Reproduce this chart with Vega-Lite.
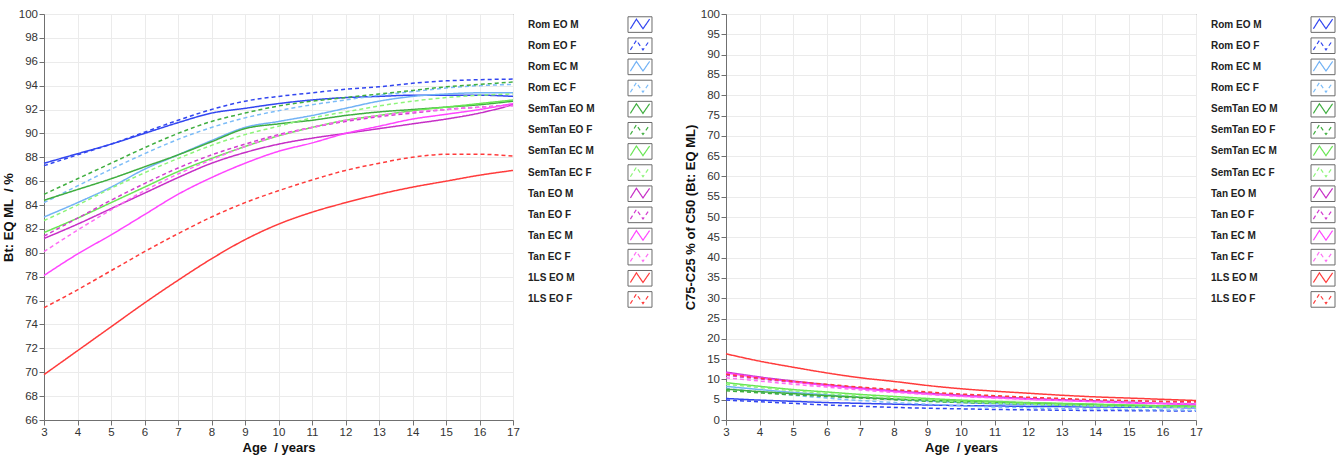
{
 "$schema": "https://vega.github.io/schema/vega-lite/v6.json",
 "padding": {"left": 1, "top": 7, "right": 0, "bottom": 0},
 "bounds": "flush",
 "spacing": 15,
 "datasets": {
  "series": [{"s":"Rom EO M"},{"s":"Rom EO F"},{"s":"Rom EC M"},{"s":"Rom EC F"},{"s":"SemTan EO M"},{"s":"SemTan EO F"},{"s":"SemTan EC M"},{"s":"SemTan EC F"},{"s":"Tan EO M"},{"s":"Tan EO F"},{"s":"Tan EC M"},{"s":"Tan EC F"},{"s":"1LS EO M"},{"s":"1LS EO F"}],
  "pts": [
{"s":"Rom EO M","age":3,"bt":87.5,"c":5.3},{"s":"Rom EO M","age":4,"bt":88.3,"c":4.9},{"s":"Rom EO M","age":5,"bt":89.1,"c":4.6},{"s":"Rom EO M","age":6,"bt":90.0,"c":4.3},{"s":"Rom EO M","age":7,"bt":90.9,"c":4.1},{"s":"Rom EO M","age":8,"bt":91.7,"c":3.9},{"s":"Rom EO M","age":9,"bt":92.1,"c":3.7},{"s":"Rom EO M","age":10,"bt":92.5,"c":3.55},{"s":"Rom EO M","age":11,"bt":92.8,"c":3.45},{"s":"Rom EO M","age":12,"bt":93.0,"c":3.35},{"s":"Rom EO M","age":13,"bt":93.1,"c":3.3},{"s":"Rom EO M","age":14,"bt":93.2,"c":3.2},{"s":"Rom EO M","age":15,"bt":93.2,"c":3.15},{"s":"Rom EO M","age":16,"bt":93.2,"c":3.1},{"s":"Rom EO M","age":17,"bt":93.1,"c":3.0},
{"s":"Rom EO F","age":3,"bt":87.3,"c":4.9},{"s":"Rom EO F","age":4,"bt":88.2,"c":4.5},{"s":"Rom EO F","age":5,"bt":89.1,"c":4.1},{"s":"Rom EO F","age":6,"bt":90.1,"c":3.7},{"s":"Rom EO F","age":7,"bt":91.1,"c":3.4},{"s":"Rom EO F","age":8,"bt":92.0,"c":3.1},{"s":"Rom EO F","age":9,"bt":92.7,"c":2.9},{"s":"Rom EO F","age":10,"bt":93.1,"c":2.75},{"s":"Rom EO F","age":11,"bt":93.4,"c":2.6},{"s":"Rom EO F","age":12,"bt":93.7,"c":2.5},{"s":"Rom EO F","age":13,"bt":93.9,"c":2.4},{"s":"Rom EO F","age":14,"bt":94.2,"c":2.35},{"s":"Rom EO F","age":15,"bt":94.4,"c":2.3},{"s":"Rom EO F","age":16,"bt":94.5,"c":2.25},{"s":"Rom EO F","age":17,"bt":94.55,"c":2.2},
{"s":"Rom EC M","age":3,"bt":83.0,"c":8.3},{"s":"Rom EC M","age":4,"bt":84.2,"c":7.5},{"s":"Rom EC M","age":5,"bt":85.5,"c":6.8},{"s":"Rom EC M","age":6,"bt":87.0,"c":6.2},{"s":"Rom EC M","age":7,"bt":88.2,"c":5.6},{"s":"Rom EC M","age":8,"bt":89.4,"c":5.1},{"s":"Rom EC M","age":9,"bt":90.5,"c":4.7},{"s":"Rom EC M","age":10,"bt":91.0,"c":4.3},{"s":"Rom EC M","age":11,"bt":91.5,"c":4.0},{"s":"Rom EC M","age":12,"bt":92.1,"c":3.8},{"s":"Rom EC M","age":13,"bt":92.7,"c":3.6},{"s":"Rom EC M","age":14,"bt":93.1,"c":3.4},{"s":"Rom EC M","age":15,"bt":93.3,"c":3.3},{"s":"Rom EC M","age":16,"bt":93.4,"c":3.2},{"s":"Rom EC M","age":17,"bt":93.4,"c":3.1},
{"s":"Rom EC F","age":3,"bt":84.2,"c":7.8},{"s":"Rom EC F","age":4,"bt":85.6,"c":6.9},{"s":"Rom EC F","age":5,"bt":87.0,"c":6.1},{"s":"Rom EC F","age":6,"bt":88.3,"c":5.4},{"s":"Rom EC F","age":7,"bt":89.5,"c":4.8},{"s":"Rom EC F","age":8,"bt":90.5,"c":4.3},{"s":"Rom EC F","age":9,"bt":91.3,"c":3.9},{"s":"Rom EC F","age":10,"bt":91.9,"c":3.5},{"s":"Rom EC F","age":11,"bt":92.4,"c":3.2},{"s":"Rom EC F","age":12,"bt":92.8,"c":3.0},{"s":"Rom EC F","age":13,"bt":93.2,"c":2.8},{"s":"Rom EC F","age":14,"bt":93.5,"c":2.7},{"s":"Rom EC F","age":15,"bt":93.8,"c":2.6},{"s":"Rom EC F","age":16,"bt":94.0,"c":2.5},{"s":"Rom EC F","age":17,"bt":94.1,"c":2.4},
{"s":"SemTan EO M","age":3,"bt":84.4,"c":7.6},{"s":"SemTan EO M","age":4,"bt":85.3,"c":7.0},{"s":"SemTan EO M","age":5,"bt":86.2,"c":6.5},{"s":"SemTan EO M","age":6,"bt":87.2,"c":6.0},{"s":"SemTan EO M","age":7,"bt":88.2,"c":5.6},{"s":"SemTan EO M","age":8,"bt":89.3,"c":5.2},{"s":"SemTan EO M","age":9,"bt":90.4,"c":4.9},{"s":"SemTan EO M","age":10,"bt":90.8,"c":4.6},{"s":"SemTan EO M","age":11,"bt":91.1,"c":4.4},{"s":"SemTan EO M","age":12,"bt":91.5,"c":4.2},{"s":"SemTan EO M","age":13,"bt":91.8,"c":4.0},{"s":"SemTan EO M","age":14,"bt":92.0,"c":3.8},{"s":"SemTan EO M","age":15,"bt":92.2,"c":3.6},{"s":"SemTan EO M","age":16,"bt":92.4,"c":3.5},{"s":"SemTan EO M","age":17,"bt":92.7,"c":3.4},
{"s":"SemTan EO F","age":3,"bt":84.9,"c":7.2},{"s":"SemTan EO F","age":4,"bt":86.2,"c":6.7},{"s":"SemTan EO F","age":5,"bt":87.5,"c":6.2},{"s":"SemTan EO F","age":6,"bt":88.8,"c":5.8},{"s":"SemTan EO F","age":7,"bt":90.0,"c":5.4},{"s":"SemTan EO F","age":8,"bt":91.0,"c":5.0},{"s":"SemTan EO F","age":9,"bt":91.7,"c":4.6},{"s":"SemTan EO F","age":10,"bt":92.3,"c":4.3},{"s":"SemTan EO F","age":11,"bt":92.7,"c":4.1},{"s":"SemTan EO F","age":12,"bt":93.0,"c":3.9},{"s":"SemTan EO F","age":13,"bt":93.3,"c":3.7},{"s":"SemTan EO F","age":14,"bt":93.6,"c":3.5},{"s":"SemTan EO F","age":15,"bt":93.9,"c":3.4},{"s":"SemTan EO F","age":16,"bt":94.1,"c":3.3},{"s":"SemTan EO F","age":17,"bt":94.3,"c":3.2},
{"s":"SemTan EC M","age":3,"bt":81.7,"c":9.2},{"s":"SemTan EC M","age":4,"bt":82.9,"c":8.3},{"s":"SemTan EC M","age":5,"bt":84.2,"c":7.5},{"s":"SemTan EC M","age":6,"bt":85.5,"c":6.9},{"s":"SemTan EC M","age":7,"bt":86.8,"c":6.3},{"s":"SemTan EC M","age":8,"bt":87.9,"c":5.8},{"s":"SemTan EC M","age":9,"bt":88.9,"c":5.3},{"s":"SemTan EC M","age":10,"bt":89.8,"c":4.9},{"s":"SemTan EC M","age":11,"bt":90.5,"c":4.6},{"s":"SemTan EC M","age":12,"bt":91.1,"c":4.3},{"s":"SemTan EC M","age":13,"bt":91.5,"c":4.1},{"s":"SemTan EC M","age":14,"bt":91.9,"c":3.9},{"s":"SemTan EC M","age":15,"bt":92.2,"c":3.7},{"s":"SemTan EC M","age":16,"bt":92.5,"c":3.5},{"s":"SemTan EC M","age":17,"bt":92.8,"c":3.4},
{"s":"SemTan EC F","age":3,"bt":82.7,"c":8.8},{"s":"SemTan EC F","age":4,"bt":84.0,"c":8.0},{"s":"SemTan EC F","age":5,"bt":85.4,"c":7.2},{"s":"SemTan EC F","age":6,"bt":86.7,"c":6.5},{"s":"SemTan EC F","age":7,"bt":87.9,"c":5.9},{"s":"SemTan EC F","age":8,"bt":89.0,"c":5.4},{"s":"SemTan EC F","age":9,"bt":89.9,"c":4.9},{"s":"SemTan EC F","age":10,"bt":90.6,"c":4.5},{"s":"SemTan EC F","age":11,"bt":91.3,"c":4.2},{"s":"SemTan EC F","age":12,"bt":91.8,"c":3.9},{"s":"SemTan EC F","age":13,"bt":92.3,"c":3.7},{"s":"SemTan EC F","age":14,"bt":92.7,"c":3.5},{"s":"SemTan EC F","age":15,"bt":93.0,"c":3.3},{"s":"SemTan EC F","age":16,"bt":93.2,"c":3.2},{"s":"SemTan EC F","age":17,"bt":93.3,"c":3.1},
{"s":"Tan EO M","age":3,"bt":81.2,"c":11.8},{"s":"Tan EO M","age":4,"bt":82.4,"c":10.6},{"s":"Tan EO M","age":5,"bt":83.7,"c":9.6},{"s":"Tan EO M","age":6,"bt":85.0,"c":8.7},{"s":"Tan EO M","age":7,"bt":86.3,"c":7.9},{"s":"Tan EO M","age":8,"bt":87.5,"c":7.2},{"s":"Tan EO M","age":9,"bt":88.4,"c":6.6},{"s":"Tan EO M","age":10,"bt":89.1,"c":6.1},{"s":"Tan EO M","age":11,"bt":89.6,"c":5.7},{"s":"Tan EO M","age":12,"bt":90.0,"c":5.3},{"s":"Tan EO M","age":13,"bt":90.4,"c":5.0},{"s":"Tan EO M","age":14,"bt":90.8,"c":4.7},{"s":"Tan EO M","age":15,"bt":91.2,"c":4.4},{"s":"Tan EO M","age":16,"bt":91.7,"c":4.1},{"s":"Tan EO M","age":17,"bt":92.4,"c":3.9},
{"s":"Tan EO F","age":3,"bt":81.4,"c":11.0},{"s":"Tan EO F","age":4,"bt":82.9,"c":10.1},{"s":"Tan EO F","age":5,"bt":84.4,"c":9.3},{"s":"Tan EO F","age":6,"bt":85.8,"c":8.5},{"s":"Tan EO F","age":7,"bt":87.1,"c":7.8},{"s":"Tan EO F","age":8,"bt":88.2,"c":7.2},{"s":"Tan EO F","age":9,"bt":89.1,"c":6.6},{"s":"Tan EO F","age":10,"bt":89.9,"c":6.1},{"s":"Tan EO F","age":11,"bt":90.5,"c":5.7},{"s":"Tan EO F","age":12,"bt":91.0,"c":5.4},{"s":"Tan EO F","age":13,"bt":91.4,"c":5.1},{"s":"Tan EO F","age":14,"bt":91.7,"c":4.8},{"s":"Tan EO F","age":15,"bt":92.0,"c":4.6},{"s":"Tan EO F","age":16,"bt":92.2,"c":4.4},{"s":"Tan EO F","age":17,"bt":92.4,"c":4.2},
{"s":"Tan EC M","age":3,"bt":78.1,"c":11.6},{"s":"Tan EC M","age":4,"bt":79.9,"c":10.4},{"s":"Tan EC M","age":5,"bt":81.5,"c":9.4},{"s":"Tan EC M","age":6,"bt":83.2,"c":8.5},{"s":"Tan EC M","age":7,"bt":84.9,"c":7.7},{"s":"Tan EC M","age":8,"bt":86.3,"c":7.0},{"s":"Tan EC M","age":9,"bt":87.5,"c":6.4},{"s":"Tan EC M","age":10,"bt":88.5,"c":5.9},{"s":"Tan EC M","age":11,"bt":89.2,"c":5.5},{"s":"Tan EC M","age":12,"bt":90.0,"c":5.1},{"s":"Tan EC M","age":13,"bt":90.6,"c":4.8},{"s":"Tan EC M","age":14,"bt":91.2,"c":4.5},{"s":"Tan EC M","age":15,"bt":91.6,"c":4.2},{"s":"Tan EC M","age":16,"bt":92.0,"c":4.0},{"s":"Tan EC M","age":17,"bt":92.5,"c":3.8},
{"s":"Tan EC F","age":3,"bt":80.1,"c":10.4},{"s":"Tan EC F","age":4,"bt":81.9,"c":9.6},{"s":"Tan EC F","age":5,"bt":83.6,"c":8.8},{"s":"Tan EC F","age":6,"bt":85.2,"c":8.1},{"s":"Tan EC F","age":7,"bt":86.6,"c":7.4},{"s":"Tan EC F","age":8,"bt":87.8,"c":6.8},{"s":"Tan EC F","age":9,"bt":88.9,"c":6.3},{"s":"Tan EC F","age":10,"bt":89.8,"c":5.8},{"s":"Tan EC F","age":11,"bt":90.5,"c":5.4},{"s":"Tan EC F","age":12,"bt":91.1,"c":5.1},{"s":"Tan EC F","age":13,"bt":91.5,"c":4.8},{"s":"Tan EC F","age":14,"bt":91.8,"c":4.6},{"s":"Tan EC F","age":15,"bt":92.0,"c":4.4},{"s":"Tan EC F","age":16,"bt":92.2,"c":4.2},{"s":"Tan EC F","age":17,"bt":92.3,"c":4.1},
{"s":"1LS EO M","age":3,"bt":69.8,"c":16.3},{"s":"1LS EO M","age":4,"bt":71.8,"c":14.5},{"s":"1LS EO M","age":5,"bt":73.8,"c":13.0},{"s":"1LS EO M","age":6,"bt":75.8,"c":11.6},{"s":"1LS EO M","age":7,"bt":77.7,"c":10.4},{"s":"1LS EO M","age":8,"bt":79.5,"c":9.5},{"s":"1LS EO M","age":9,"bt":81.1,"c":8.5},{"s":"1LS EO M","age":10,"bt":82.4,"c":7.7},{"s":"1LS EO M","age":11,"bt":83.4,"c":7.1},{"s":"1LS EO M","age":12,"bt":84.2,"c":6.6},{"s":"1LS EO M","age":13,"bt":84.9,"c":6.1},{"s":"1LS EO M","age":14,"bt":85.5,"c":5.7},{"s":"1LS EO M","age":15,"bt":86.0,"c":5.4},{"s":"1LS EO M","age":16,"bt":86.5,"c":5.1},{"s":"1LS EO M","age":17,"bt":86.9,"c":4.8},
{"s":"1LS EO F","age":3,"bt":75.4,"c":11.3},{"s":"1LS EO F","age":4,"bt":76.9,"c":10.3},{"s":"1LS EO F","age":5,"bt":78.5,"c":9.5},{"s":"1LS EO F","age":6,"bt":80.1,"c":8.8},{"s":"1LS EO F","age":7,"bt":81.6,"c":8.1},{"s":"1LS EO F","age":8,"bt":83.0,"c":7.5},{"s":"1LS EO F","age":9,"bt":84.2,"c":6.9},{"s":"1LS EO F","age":10,"bt":85.2,"c":6.4},{"s":"1LS EO F","age":11,"bt":86.1,"c":6.0},{"s":"1LS EO F","age":12,"bt":86.9,"c":5.6},{"s":"1LS EO F","age":13,"bt":87.5,"c":5.3},{"s":"1LS EO F","age":14,"bt":88.0,"c":5.0},{"s":"1LS EO F","age":15,"bt":88.25,"c":4.8},{"s":"1LS EO F","age":16,"bt":88.25,"c":4.6},{"s":"1LS EO F","age":17,"bt":88.1,"c":4.5}
  ]
 },
 "hconcat": [
  {
   "width": 469, "height": 406,
   "data": {"name": "pts"},
   "mark": {"type": "line", "strokeWidth": 1.5, "interpolate": "monotone"},
   "encoding": {
    "x": {"field": "age", "type": "quantitative", "scale": {"domain": [3, 17], "nice": false, "zero": false}, "axis": {"values": [3,4,5,6,7,8,9,10,11,12,13,14,15,16,17], "title": "Age\u00a0 / years"}},
    "y": {"field": "bt", "type": "quantitative", "scale": {"domain": [66, 100], "nice": false, "zero": false}, "axis": {"values": [66,68,70,72,74,76,78,80,82,84,86,88,90,92,94,96,98,100], "title": "Bt: EQ ML\u00a0 / %"}},
    "color": {"field": "s", "type": "nominal", "legend": null, "scale": {"domain": ["Rom EO M","Rom EO F","Rom EC M","Rom EC F","SemTan EO M","SemTan EO F","SemTan EC M","SemTan EC F","Tan EO M","Tan EO F","Tan EC M","Tan EC F","1LS EO M","1LS EO F"], "range": ["#3246f0","#3246f0","#72b2f5","#7cbcf8","#3fae3f","#3fae3f","#6ae655","#8ef57a","#c62ec6","#d43cd0","#ff45ff","#ff6cf5","#ff3b3b","#ff3b3b"]}},
    "strokeDash": {"field": "s", "type": "nominal", "legend": null, "scale": {"domain": ["Rom EO M","Rom EO F","Rom EC M","Rom EC F","SemTan EO M","SemTan EO F","SemTan EC M","SemTan EC F","Tan EO M","Tan EO F","Tan EC M","Tan EC F","1LS EO M","1LS EO F"], "range": [[1,0],[4,3],[1,0],[4,3],[1,0],[4,3],[1,0],[4,3],[1,0],[4,3],[1,0],[4,3],[1,0],[4,3]]}}
   }
  },
  {
   "width": 183, "height": 296,
   "view": {"stroke": null},
   "data": {"name": "series"},
   "encoding": {
    "y": {"field": "s", "type": "nominal", "axis": null, "scale": {"domain": ["Rom EO M","Rom EO F","Rom EC M","Rom EC F","SemTan EO M","SemTan EO F","SemTan EC M","SemTan EC F","Tan EO M","Tan EO F","Tan EC M","Tan EC F","1LS EO M","1LS EO F"]}},
    "x": {"datum": 0, "type": "quantitative", "axis": null, "scale": {"domain": [0, 1.634], "nice": false, "zero": false}}
   },
   "layer": [
    {"mark": {"type": "text", "align": "left", "baseline": "middle", "fontWeight": "bold", "fontSize": 10, "font": "Liberation Sans", "color": "#222222"}, "encoding": {"text": {"field": "s"}}},
    {"mark": {"type": "point", "shape": "M-1,-0.65L1,-0.65L1,0.65L-1,0.65Z", "filled": false, "stroke": "#6b6b6b", "strokeWidth": 1, "size": 576, "opacity": 1}, "encoding": {"x": {"datum": 1, "type": "quantitative"}}},
    {"mark": {"type": "point", "shape": "M-0.8,0.35L-0.3,-0.45L0.25,0.35L0.8,-0.45", "filled": false, "strokeWidth": 1.2, "size": 576, "opacity": 1}, "encoding": {
      "x": {"datum": 1, "type": "quantitative"},
      "color": {"field": "s", "type": "nominal", "legend": null},
      "strokeDash": {"field": "s", "type": "nominal", "legend": null}
    }}
   ]
  },
  {
   "width": 470, "height": 406,
   "data": {"name": "pts"},
   "mark": {"type": "line", "strokeWidth": 1.5, "interpolate": "monotone"},
   "encoding": {
    "x": {"field": "age", "type": "quantitative", "scale": {"domain": [3, 17], "nice": false, "zero": false}, "axis": {"values": [3,4,5,6,7,8,9,10,11,12,13,14,15,16,17], "title": "Age\u00a0 / years"}},
    "y": {"field": "c", "type": "quantitative", "scale": {"domain": [0, 100], "nice": false, "zero": false}, "axis": {"values": [0,5,10,15,20,25,30,35,40,45,50,55,60,65,70,75,80,85,90,95,100], "title": "C75-C25 % of C50 (Bt: EQ ML)"}},
    "color": {"field": "s", "type": "nominal", "legend": null},
    "strokeDash": {"field": "s", "type": "nominal", "legend": null}
   }
  },
  {
   "width": 112, "height": 296,
   "view": {"stroke": null},
   "data": {"name": "series"},
   "encoding": {
    "y": {"field": "s", "type": "nominal", "axis": null, "scale": {"domain": ["Rom EO M","Rom EO F","Rom EC M","Rom EC F","SemTan EO M","SemTan EO F","SemTan EC M","SemTan EC F","Tan EO M","Tan EO F","Tan EC M","Tan EC F","1LS EO M","1LS EO F"]}},
    "x": {"datum": 0, "type": "quantitative", "axis": null, "scale": {"domain": [0, 1], "nice": false, "zero": false}}
   },
   "layer": [
    {"mark": {"type": "text", "align": "left", "baseline": "middle", "fontWeight": "bold", "fontSize": 10, "font": "Liberation Sans", "color": "#222222"}, "encoding": {"text": {"field": "s"}}},
    {"mark": {"type": "point", "shape": "M-1,-0.65L1,-0.65L1,0.65L-1,0.65Z", "filled": false, "stroke": "#6b6b6b", "strokeWidth": 1, "size": 576, "opacity": 1}, "encoding": {"x": {"datum": 1, "type": "quantitative"}}},
    {"mark": {"type": "point", "shape": "M-0.8,0.35L-0.3,-0.45L0.25,0.35L0.8,-0.45", "filled": false, "strokeWidth": 1.2, "size": 576, "opacity": 1}, "encoding": {
      "x": {"datum": 1, "type": "quantitative"},
      "color": {"field": "s", "type": "nominal", "legend": null},
      "strokeDash": {"field": "s", "type": "nominal", "legend": null}
    }}
   ]
  }
 ],
 "config": {
  "font": "Liberation Sans",
  "view": {"stroke": "#707070", "strokeWidth": 1},
  "axis": {"labelFont": "Liberation Sans", "labelFontSize": 11.5, "labelColor": "#333333", "titleFont": "Liberation Sans", "titleFontSize": 13, "titleFontWeight": "bold", "titleColor": "#111111", "domainColor": "#707070", "tickColor": "#707070", "tickSize": 5, "labelPadding": 1.5, "titlePadding": 3, "gridColor": "#ebebeb", "labelFlush": false, "labelOverlap": false}
 }
}
